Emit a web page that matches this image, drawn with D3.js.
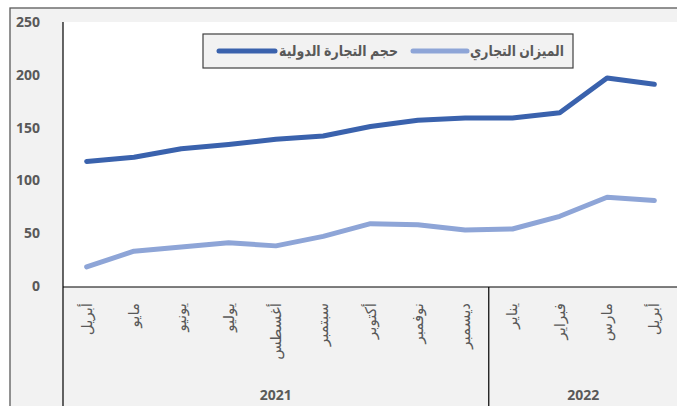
<!DOCTYPE html>
<html>
<head>
<meta charset="utf-8">
<script src="https://cdn.jsdelivr.net/npm/d3@7"></script>
<style>
  body { margin: 0; background: #fff; }
  svg text { font-family: "Open Sans", "DejaVu Sans", sans-serif; fill: #595959; }
</style>
</head>
<body>
<div id="chart"></div>
<script>
"use strict";

// == DATA ==
var months = ["أبريل", "مايو", "يونيو", "يوليو", "أغسطس", "سبتمبر", "أكتوبر", "نوفمبر", "ديسمبر", "يناير", "فبراير", "مارس", "أبريل"];
var years = ["2021", "2021", "2021", "2021", "2021", "2021", "2021", "2021", "2021", "2022", "2022", "2022", "2022"];
var tradeVolume = [118, 122, 130, 134, 139, 142, 151, 157, 159, 159, 164, 197, 191];
var tradeBalance = [18, 33, 37, 41, 38, 47, 59, 58, 53, 54, 66, 84, 81];
var seriesNames = ["حجم التجارة الدولية", "الميزان التجاري"];
var yTicks = [0, 50, 100, 150, 200, 250];

// == BOILERPLATE ==
var width = 677, height = 406;
var plot = { left: 63, right: 678, top: 22, bottom: 287 };

var svg = d3.select("#chart")
            .append("svg")
            .attr("width", width)
            .attr("height", height);

// outer frame (grey background)
svg.append("rect")
   .attr("x", 10).attr("y", 8)
   .attr("width", width).attr("height", height)
   .attr("fill", "#f2f2f2")
   .attr("stroke", "#595959")
   .attr("stroke-width", 1.3);

// plot area
svg.append("rect")
   .attr("x", plot.left).attr("y", plot.top)
   .attr("width", plot.right - plot.left).attr("height", plot.bottom - plot.top)
   .attr("fill", "#fff");

var idx = d3.range(months.length);

var x = d3.scaleBand()
  .domain(idx)
  .range([plot.left, plot.right]);

var y = d3.scaleLinear()
  .domain([0, 250])
  .range([plot.bottom - 1, plot.top]);

// y tick labels
svg.append("g").selectAll("text")
   .data(yTicks)
   .enter()
   .append("text")
   .attr("x", 40)
   .attr("y", function(d){ return y(d); })
   .attr("dy", "0.35em")
   .attr("text-anchor", "end")
   .style("font-size", "14px")
   .style("font-weight", "bold")
   .text(function(d){ return d; });

// axis lines
svg.append("line")
   .attr("x1", plot.left).attr("x2", plot.left)
   .attr("y1", plot.top).attr("y2", height)
   .attr("stroke", "#000").attr("stroke-width", 1.2);
svg.append("line")
   .attr("x1", plot.left).attr("x2", plot.right)
   .attr("y1", plot.bottom).attr("y2", plot.bottom)
   .attr("stroke", "#000").attr("stroke-width", 1.2);

// year groups
var groups = d3.groups(idx, function(i){ return years[i]; });
groups.forEach(function(g, gi){
  var first = g[1][0], last = g[1][g[1].length - 1];
  var x0 = x(first), x1 = x(last) + x.bandwidth();
  if (gi > 0) {
    svg.append("line")
       .attr("x1", x0).attr("x2", x0)
       .attr("y1", plot.bottom).attr("y2", height)
       .attr("stroke", "#000").attr("stroke-width", 1.2);
  }
  svg.append("text")
     .attr("x", (x0 + x1) / 2)
     .attr("y", 400)
     .attr("text-anchor", "middle")
     .style("font-size", "14px")
     .style("font-weight", "bold")
     .text(g[0]);
});

// month labels (rotated)
svg.append("g").selectAll("text")
   .data(idx)
   .enter()
   .append("text")
   .attr("transform", function(i){
     return "translate(" + (x(i) + x.bandwidth() / 2 + 5) + ",303) rotate(-90)";
   })
   .attr("text-anchor", "end")
   .style("font-size", "15px")
   .text(function(i){ return months[i]; });

// lines
var line = d3.line()
  .x(function(d, i){ return x(i) + x.bandwidth() / 2; })
  .y(function(d){ return y(d); });

svg.append("path")
   .datum(tradeBalance)
   .attr("d", line)
   .attr("fill", "none")
   .attr("stroke", "#8ea5d7")
   .attr("stroke-width", 5)
   .attr("stroke-linecap", "round")
   .attr("stroke-linejoin", "round");

svg.append("path")
   .datum(tradeVolume)
   .attr("d", line)
   .attr("fill", "none")
   .attr("stroke", "#3a62ad")
   .attr("stroke-width", 5)
   .attr("stroke-linecap", "round")
   .attr("stroke-linejoin", "round");

// legend
var legend = svg.append("g");
legend.append("rect")
   .attr("x", 203).attr("y", 34)
   .attr("width", 370).attr("height", 34)
   .attr("fill", "#f2f2f2")
   .attr("stroke", "#404040")
   .attr("stroke-width", 1.2);

var legendItems = [
  { name: seriesNames[1], color: "#8ea5d7", x1: 413, x2: 467, tx: 470, tw: 94 },
  { name: seriesNames[0], color: "#3a62ad", x1: 219, x2: 275, tx: 279, tw: 119 }
];
legendItems.forEach(function(d){
  legend.append("line")
     .attr("x1", d.x1).attr("x2", d.x2)
     .attr("y1", 51).attr("y2", 51)
     .attr("stroke", d.color)
     .attr("stroke-width", 5)
     .attr("stroke-linecap", "round");
  legend.append("text")
     .attr("x", d.tx).attr("y", 51)
     .attr("dy", "0.35em")
     .attr("text-anchor", "start")
     .attr("direction", "ltr")
     .attr("textLength", d.tw)
     .attr("lengthAdjust", "spacingAndGlyphs")
     .style("font-size", "15px")
     .style("font-weight", "bold")
     .text(d.name);
});
</script>
</body>
</html>
